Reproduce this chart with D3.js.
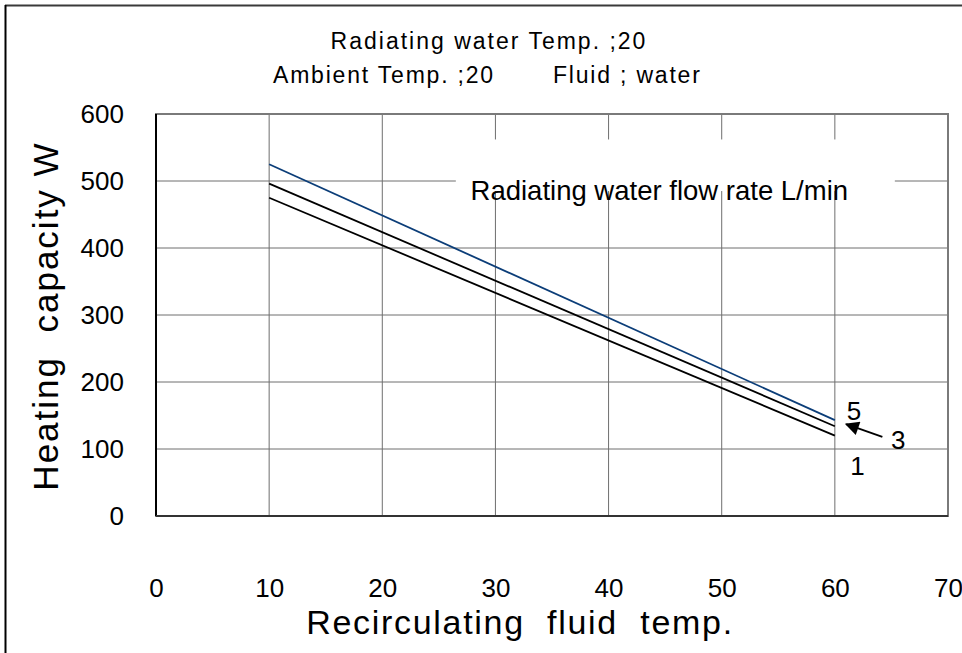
<!DOCTYPE html>
<html>
<head>
<meta charset="utf-8">
<script src="https://cdn.jsdelivr.net/npm/d3@7"></script>
<style>
  body { margin: 0; background: #fff; }
  text { font-family: "Liberation Sans", Arial, sans-serif; fill: #000; white-space: pre; }
</style>
</head>
<body>
<div id="area"></div>
<script>
// data
var temps = [10, 60];
var flow5 = [525, 143];
var flow3 = [496, 134];
var flow1 = [475, 120];
var xTicks = [0, 10, 20, 30, 40, 50, 60, 70];
var yTicks = [0, 100, 200, 300, 400, 500, 600];
var flowLabels = [
  {name: "5", t: 61.7, v: 143},
  {name: "3", t: 65.6, v: 100},
  {name: "1", t: 62.0, v: 61}
];
var arrowFrom = {t: 64.2, v: 118};
var arrowTo = {t: 61.0, v: 137};

var margin = {top: 114, right: 14, bottom: 137, left: 156},
    width = 962 - margin.left - margin.right,
    height = 653 - margin.top - margin.bottom;

var svg = d3.select('#area').append('svg')
            .attr('width', 962)
            .attr('height', 653);

// outer frame (right / bottom run off the picture)
svg.append('line').attr('x1', 5).attr('x2', 962).attr('y1', 5.5).attr('y2', 5.5)
   .attr('stroke', '#3a3a3a').attr('stroke-width', 2);
svg.append('line').attr('x1', 5.5).attr('x2', 5.5).attr('y1', 5).attr('y2', 653)
   .attr('stroke', '#000').attr('stroke-width', 2);

var g = svg.append('g')
           .attr('transform', 'translate(' + margin.left + ',' + margin.top + ')');

var x = d3.scaleLinear().domain([0, 70]).range([0, width]);
var y = d3.scaleLinear().domain([0, 600]).range([height, 0]);

// grid
g.selectAll('.vgrid').data(xTicks.slice(1, -1)).enter().append('line')
 .attr('x1', function(d) { return x(d); }).attr('x2', function(d) { return x(d); })
 .attr('y1', 0).attr('y2', height)
 .attr('stroke', '#6e6e6e').attr('stroke-width', 1);
g.selectAll('.hgrid').data(yTicks.slice(1, -1)).enter().append('line')
 .attr('x1', 0).attr('x2', width)
 .attr('y1', function(d) { return y(d); }).attr('y2', function(d) { return y(d); })
 .attr('stroke', '#6e6e6e').attr('stroke-width', 1);

// white box behind the flow rate note
g.append('rect')
 .attr('x', x(26.5)).attr('y', y(562) ).attr('width', x(65.3) - x(26.5)).attr('height', y(485) - y(562))
 .attr('fill', '#fff');
g.append('text')
 .attr('x', x(27.8)).attr('y', y(471))
 .attr('font-size', 27.5)
 .text('Radiating water flow rate L/min');

// plot border
g.append('rect').attr('x', 0).attr('y', 0).attr('width', width).attr('height', height)
 .attr('fill', 'none').attr('stroke', '#7a7a7a').attr('stroke-width', 2);
g.append('line').attr('x1', 0).attr('x2', 0).attr('y1', 0).attr('y2', height)
 .attr('stroke', '#000').attr('stroke-width', 2);
g.append('line').attr('x1', 0).attr('x2', width).attr('y1', height).attr('y2', height)
 .attr('stroke', '#333').attr('stroke-width', 2);

// axes
var xAxis = d3.axisBottom(x).tickValues(xTicks).tickSize(0).tickPadding(63);
var yAxis = d3.axisLeft(y).tickValues(yTicks).tickSize(0).tickPadding(32);
g.append('g').attr('transform', 'translate(0,' + height + ')').call(xAxis)
 .call(function(s) { s.select('.domain').remove(); })
 .selectAll('text').attr('font-size', 26).attr('font-family', '"Liberation Sans", Arial, sans-serif');
g.append('g').call(yAxis)
 .call(function(s) { s.select('.domain').remove(); })
 .selectAll('text').attr('font-size', 26).attr('font-family', '"Liberation Sans", Arial, sans-serif');

// lines
var line = d3.line()
             .x(function(d) { return x(d[0]); })
             .y(function(d) { return y(d[1]); });
var series = [
  {vals: flow1, color: '#000'},
  {vals: flow3, color: '#000'},
  {vals: flow5, color: '#0b3d78'}
];
g.selectAll('.flow').data(series).enter().append('path')
 .attr('d', function(s) { return line(temps.map(function(t, i) { return [t, s.vals[i]]; })); })
 .attr('fill', 'none')
 .attr('stroke', function(s) { return s.color; })
 .attr('stroke-width', 1.8);

g.selectAll('.flabel').data(flowLabels).enter().append('text')
 .attr('x', function(d) { return x(d.t); })
 .attr('y', function(d) { return y(d.v); })
 .attr('text-anchor', 'middle')
 .attr('font-size', 26)
 .text(function(d) { return d.name; });

// arrow to line 3
svg.append('defs').append('marker')
   .attr('id', 'head').attr('viewBox', '0 0 10 10').attr('refX', 9).attr('refY', 5)
   .attr('markerWidth', 16).attr('markerHeight', 14).attr('orient', 'auto')
   .attr('markerUnits', 'userSpaceOnUse')
   .append('path').attr('d', 'M0,0L10,5L0,10z').attr('fill', '#000');
g.append('line')
 .attr('x1', x(arrowFrom.t)).attr('y1', y(arrowFrom.v))
 .attr('x2', x(arrowTo.t)).attr('y2', y(arrowTo.v))
 .attr('stroke', '#000').attr('stroke-width', 1.8)
 .attr('marker-end', 'url(#head)');

// titles
svg.append('text').attr('x', 489).attr('y', 49).attr('text-anchor', 'middle')
   .attr('font-size', 23).attr('letter-spacing', 2)
   .text('Radiating water Temp. ;20');
svg.append('text').attr('x', 273).attr('y', 83)
   .attr('font-size', 23).attr('letter-spacing', 1.8)
   .text('Ambient Temp. ;20');
svg.append('text').attr('x', 553).attr('y', 83)
   .attr('font-size', 23).attr('letter-spacing', 1.8)
   .text('Fluid ; water');

svg.append('text').attr('x', 520).attr('y', 634).attr('text-anchor', 'middle')
   .attr('font-size', 34).attr('letter-spacing', 1.7)
   .text('Recirculating  fluid  temp.');
svg.append('text')
   .attr('transform', 'translate(58,316) rotate(-90)')
   .attr('text-anchor', 'middle')
   .attr('font-size', 35).attr('letter-spacing', 2)
   .text('Heating  capacity W');
</script>
</body>
</html>
